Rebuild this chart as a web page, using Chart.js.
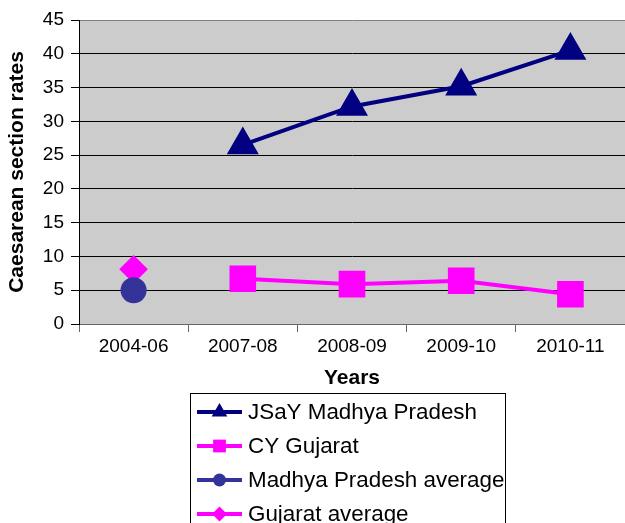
<!DOCTYPE html>
<html>
<head>
<meta charset="utf-8">
<script src="https://cdn.jsdelivr.net/npm/chart.js@4"></script>
<style>
  html, body { margin: 0; padding: 0; background: #ffffff; }
</style>
</head>
<body>
<canvas id="myChart" width="625" height="523"></canvas>
<script>
// data
const years = ['2004-06', '2007-08', '2008-09', '2009-10', '2010-11'];
const jsayMadhyaPradesh = [null, 26.5, 32.2, 35.2, 40.5];
const cyGujarat = [null, 6.7, 5.9, 6.4, 4.4];
const madhyaPradeshAverage = [5.0, null, null, null, null];
const gujaratAverage = [8.1, null, null, null, null];
const yMin = 0, yMax = 45, yStep = 5;

const FONT = "'Liberation Sans', Arial, sans-serif";

// grey plot background
const plotBackground = {
  id: 'plotBackground',
  beforeDraw(chart) {
    const { ctx, chartArea } = chart;
    ctx.save();
    ctx.fillStyle = '#cccccc';
    ctx.fillRect(chartArea.left, chartArea.top, chartArea.right - chartArea.left, chartArea.bottom - chartArea.top);
    ctx.restore();
  }
};

function drawMarker(ctx, style, x, y, r, color) {
  ctx.save();
  ctx.fillStyle = color;
  ctx.beginPath();
  if (style === 'triangle') {
    ctx.moveTo(x, y - r);
    ctx.lineTo(x + r * 0.87, y + r * 0.5);
    ctx.lineTo(x - r * 0.87, y + r * 0.5);
    ctx.closePath();
  } else if (style === 'rect') {
    const s = r * 0.71;
    ctx.rect(x - s, y - s, 2 * s, 2 * s);
  } else if (style === 'rectRot') {
    ctx.moveTo(x, y - r);
    ctx.lineTo(x + r, y);
    ctx.lineTo(x, y + r);
    ctx.lineTo(x - r, y);
    ctx.closePath();
  } else {
    ctx.arc(x, y, r, 0, Math.PI * 2);
  }
  ctx.fill();
  ctx.restore();
}

// boxed legend below the axis, like the original
const boxLegend = {
  id: 'boxLegend',
  afterDraw(chart) {
    const ctx = chart.ctx;
    const left = 190, top = 393, right = 505, rowH = 34;
    ctx.save();
    ctx.strokeStyle = '#000000';
    ctx.lineWidth = 1;
    ctx.strokeRect(left + 0.5, top + 0.5, right - left, 200);
    ctx.font = '22.4px ' + FONT;
    ctx.textBaseline = 'middle';
    chart.data.datasets.forEach((ds, i) => {
      const y = top + 19 + i * rowH;
      ctx.strokeStyle = ds.borderColor;
      ctx.lineWidth = 4;
      ctx.beginPath();
      ctx.moveTo(197, y);
      ctx.lineTo(242, y);
      ctx.stroke();
      drawMarker(ctx, ds.pointStyle, 219.5, y, ds.legendRadius, ds.pointBackgroundColor);
      ctx.fillStyle = '#000000';
      ctx.fillText(ds.label, 248, y + 1);
    });
    ctx.restore();
  }
};

const config = {
  type: 'line',
  data: {
    labels: years,
    datasets: [{
      label: 'JSaY Madhya Pradesh',
      data: jsayMadhyaPradesh,
      borderColor: '#000080',
      pointBackgroundColor: '#000080',
      pointBorderColor: '#000080',
      borderWidth: 4,
      pointStyle: 'triangle',
      pointRadius: 14.5,
      legendRadius: 9
    }, {
      label: 'CY Gujarat',
      data: cyGujarat,
      borderColor: '#ff00ff',
      pointBackgroundColor: '#ff00ff',
      pointBorderColor: '#ff00ff',
      borderWidth: 4,
      pointStyle: 'rect',
      pointRadius: 16,
      legendRadius: 9
    }, {
      label: 'Madhya Pradesh average',
      data: madhyaPradeshAverage,
      borderColor: '#333399',
      pointBackgroundColor: '#333399',
      pointBorderColor: '#333399',
      borderWidth: 4,
      pointStyle: 'circle',
      pointRadius: 11,
      legendRadius: 6.5
    }, {
      label: 'Gujarat average',
      data: gujaratAverage,
      borderColor: '#ff00ff',
      pointBackgroundColor: '#ff00ff',
      pointBorderColor: '#ff00ff',
      borderWidth: 4,
      pointStyle: 'rectRot',
      pointRadius: 11.5,
      legendRadius: 7.5
    }]
  },
  options: {
    responsive: false,
    animation: false,
    spanGaps: false,
    layout: { autoPadding: false, padding: { top: 20, left: 1, right: -2, bottom: 128 } },
    plugins: {
      legend: { display: false },
      tooltip: { enabled: false }
    },
    scales: {
      x: {
        offset: true,
        grid: {
          offset: true,
          drawOnChartArea: false,
          drawTicks: true,
          tickLength: 8,
          color: '#666666'
        },
        border: { color: '#666666', width: 1 },
        ticks: { color: '#000000', font: { family: FONT, size: 19 }, padding: 3 },
        title: {
          display: true,
          text: 'Years',
          color: '#000000',
          font: { family: FONT, size: 21, weight: 'bold' }
        },
        afterFit(scale) {
          scale.height = 71;
          scale.paddingLeft = 0;
          scale.paddingRight = 0;
        }
      },
      y: {
        min: yMin,
        max: yMax,
        grid: {
          color: (c) => c.tick && c.tick.value === yMax ? '#808080' : '#000000',
          tickColor: '#000000',
          tickLength: 8,
          lineWidth: 1
        },
        border: { color: '#000000', width: 1 },
        ticks: {
          stepSize: yStep,
          color: '#000000',
          font: { family: FONT, size: 19 },
          padding: 7
        },
        title: {
          display: true,
          text: 'Caesarean section rates',
          color: '#000000',
          font: { family: FONT, size: 21, weight: 'bold' }
        },
        afterFit(scale) { scale.width = 78; }
      }
    }
  },
  plugins: [plotBackground, boxLegend]
};

const myChart = new Chart(document.getElementById('myChart').getContext('2d'), config);
</script>
</body>
</html>
